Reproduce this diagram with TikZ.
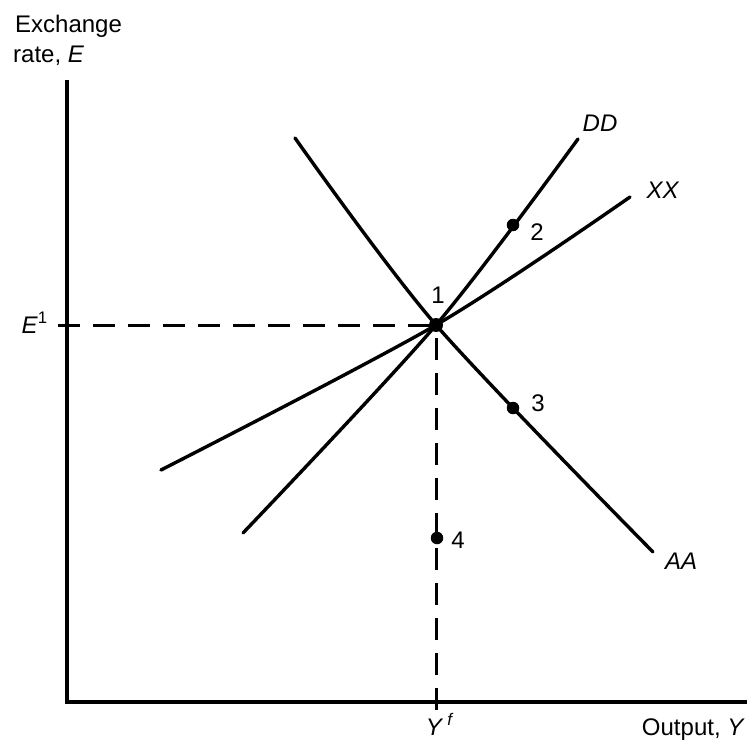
\documentclass[tikz,border=0pt]{standalone}
\usepackage{fontspec}
\setmainfont{Liberation Sans}
\begin{document}
\begin{tikzpicture}[x=1pt,y=-1pt]
\tikzset{
 curve/.style={line width=3.4pt, line cap=round},
 axis/.style={line width=4.5pt},
 guide/.style={line width=3pt, dash pattern=on 22pt off 13pt},
 dot/.style={circle, fill, inner sep=0pt, minimum size=12.5pt},
 lbl/.style={font=\fontsize{24}{28}\selectfont, inner sep=0pt},
}
\useasboundingbox (0,0) rectangle (754,751);
% points
\node[dot, minimum size=14pt] (p1) at (436,325) {};
\node[dot] (p2) at (513,225) {};
\node[dot] (p3) at (513,408) {};
\node[dot] (p4) at (437,538) {};
% axes
\coordinate (yt) at (67,80);
\coordinate (o) at (67,702);
\coordinate (xr) at (747,702);
\draw[axis] (yt) -- (o) -- (xr);
% guides
\coordinate (e1) at (58,325);
\coordinate (yf) at (436,710);
\draw[guide] (e1) -- (p1.center);
\draw[guide] (yf) -- (p1.center);
% curves
\draw[curve] plot[smooth, tension=0.5] coordinates {(295,138) (436,325) (653,552)};
\draw[curve] plot[smooth, tension=0.5] coordinates {(243,533) (436,325) (578,139)};
\draw[curve] plot[smooth, tension=0.5] coordinates {(161,470) (436,325) (630,197)};
% labels
\node[lbl, anchor=base west] (ylab1) at (15,33) {Exchange};
\node[lbl, anchor=base west] (ylab2) at (13,63) {rate, \textit{E}};
\node[lbl, anchor=base east] (le1) at (48,333) {\textit{E}\textsuperscript{1}};
\node[lbl] (l1) at (438,295) {1};
\node[lbl] (l2) at (537,232) {2};
\node[lbl] (l3) at (538,403) {3};
\node[lbl] (l4) at (458,540) {4};
\node[lbl] (ldd) at (600,123) {\textit{DD}};
\node[lbl] (lxx) at (663,190) {\textit{XX}};
\node[lbl] (laa) at (681,561) {\textit{AA}};
\node[lbl, anchor=base] (lyf) at (440,735) {\textit{Y}\,\textsuperscript{\textit{f}}};
\node[lbl, anchor=base east] (lout) at (745,735) {Output, \textit{Y}};
\end{tikzpicture}
\end{document}
